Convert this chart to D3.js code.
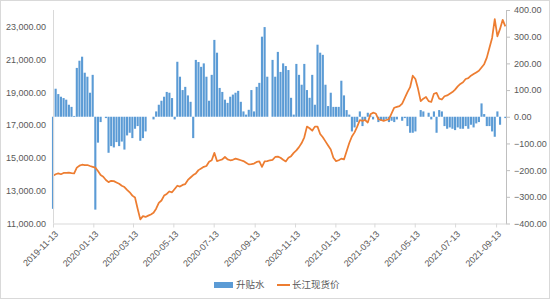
<!DOCTYPE html>
<html>
<head>
<meta charset="utf-8">
<script src="https://cdn.jsdelivr.net/npm/d3@7/dist/d3.min.js"></script>
<style>
  body { margin: 0; background: #fff; }
  text { font-family: "Liberation Sans", "Noto Sans CJK SC", sans-serif; fill: #595959; }
</style>
</head>
<body>
<svg width="550" height="300"></svg>
<script>
// series names for the legend
var seriesNames = ["升贴水", "长江现货价"];

// one reading every 4 days starting at the first date
var startDate = "2019-11-13";
var stepDays = 4;

// 升贴水 (right axis)
var basis = [
  -345, 105, 85, 75, 70, 64, 45, 37, 3, 183,
  210, 225, 165, 150, 90, 157, -348, -97, -20, 0,
  -5, -135, -110, -115, -95, -110, -93, -123, -70, -60,
  -80, -45, -35, -90, -80, -55, 0, 0, -10, 20,
  45, 60, 75, 93, 90, 70, -10, 206, 150, 100,
  112, 80, 56, -80, 213, 205, 187, 200, 150, 60,
  157, 288, 240, 108, 93, 64, 52, 75, 83, 90,
  97, 56, 20, 8, 26, 100, 20, 112, 127, 300,
  336, 150, 0, 213, 150, 243, 168, 200, 190, 175,
  71, 8, 198, 157, 120, 198, 100, 71, 157, 45,
  270, 240, 232, 120, 40, 90, 37, 37, 37, 135,
  80, 25, 8, -55, -40, -20, 20, -35, -15, 15,
  5, -10, 0, -20, -15, -15, -8, -20, -15, -20,
  -10, 0, -15, -5, -35, -60, -60, -55, 0, 25,
  20, 0, 15, -10, 20, -60, 25, 20, -35, -45,
  -40, -45, -50, -40, -45, -45, -35, -45, -30, -40,
  -25, -20, 50, 10, -35, -35, -55, -75, 20, -30,
  0, -5
];

// 长江现货价 (left axis)
var price = [
  13900, 14000, 14050, 14000, 14080, 14090, 14100, 14070, 14050, 14400,
  14520, 14580, 14550, 14560, 14500, 14450, 14400, 14200, 13950, 13850,
  13650, 13520, 13600, 13580, 13500, 13420, 13300, 13220, 13050, 12900,
  12700, 12580, 11900, 11250, 11450, 11400, 11480, 11550, 11650, 11900,
  12250, 12400, 12700, 12800, 12950, 12900, 13100, 13300, 13250, 13350,
  13400, 13650, 13800, 13950, 14050, 14250, 14350, 14450, 14500, 14760,
  14850, 15300, 14800, 14850, 14900, 15050, 14900, 14850, 14880, 14950,
  14900, 14850, 14800, 14700, 14600, 14620, 14650, 14750, 14780, 14450,
  14780, 14800, 14850, 14880, 15050, 15070, 15000, 14880, 14780, 15000,
  15100, 15300, 15450, 15650, 15900, 16250, 16900, 16800, 16650, 16900,
  16900, 16450, 16250, 16000, 15750, 15500, 15000, 14800, 14850, 14950,
  14900, 15400, 15900, 16300, 16550, 16900, 17300, 17250, 17300, 17150,
  17650, 17750, 17700, 17350, 17300, 17250, 17300, 17350, 17700, 18050,
  18100, 18150, 18300, 18650, 19000, 19300, 20000, 19800, 19200, 18450,
  18600, 18700, 18450, 18400, 18900, 18950, 18600, 18550, 18750, 18800,
  18900, 19000, 19150, 19350, 19500, 19600, 19800, 19850, 20000, 20100,
  20200, 20300, 20500, 20700, 21100, 21700, 22300, 23450, 22400, 22850,
  23400, 23000
];

// axis ticks
var xTickLabels = ["2019-11-13", "2020-01-13", "2020-03-13", "2020-05-13", "2020-07-13", "2020-09-13",
  "2020-11-13", "2021-01-13", "2021-03-13", "2021-05-13", "2021-07-13", "2021-09-13"];
var leftTicks = [11000, 13000, 15000, 17000, 19000, 21000, 23000];
var rightTicks = [-400, -300, -200, -100, 0, 100, 200, 300, 400];

var parse = d3.timeParse("%Y-%m-%d");
var fmtLeft = d3.format(",.2f");
var fmtRight = d3.format(".2f");

var svg = d3.select("svg");

// outer frame of the chart
svg.append("rect")
  .attr("x", 0.5).attr("y", 0.5)
  .attr("width", 549).attr("height", 298)
  .attr("fill", "#fff")
  .attr("stroke", "#d9d9d9");

// plot area bounds (plotTop, since "top" is taken by window.top)
var plotLeft = 53, plotRight = 506, plotTop = 10, plotBottom = 223.5;

var t0 = parse(startDate);
var dates = basis.map(function(d, i) { return d3.timeDay.offset(t0, i * stepDays); });

var x = d3.scaleTime()
  .domain([t0, parse("2021-09-28")])
  .range([plotLeft, plotRight]);
var yLeft = d3.scaleLinear().domain([11000, 24000]).range([plotBottom, plotTop]);
var yRight = d3.scaleLinear().domain([-400, 400]).range([plotBottom, plotTop]);

var barW = (x(dates[1]) - x(dates[0])) * 0.8;

// bars for 升贴水, from zero on the right axis
svg.append("g").selectAll("rect")
  .data(basis)
  .enter()
  .append("rect")
  .attr("x", function(d, i) { return x(dates[i]) - barW / 2; })
  .attr("y", function(d) { return Math.min(yRight(d), yRight(0)); })
  .attr("width", barW)
  .attr("height", function(d) { return Math.abs(yRight(d) - yRight(0)); })
  .attr("fill", "#5b9bd5");

// price line on top of the bars
var line = d3.line()
  .x(function(d, i) { return x(dates[i]); })
  .y(function(d) { return yLeft(d); });

svg.append("path")
  .datum(price)
  .attr("d", line)
  .attr("fill", "none")
  .attr("stroke", "#ed7d31")
  .attr("stroke-width", 1.75)
  .attr("stroke-linejoin", "round");

// left axis
var gl = svg.append("g").attr("transform", "translate(" + plotLeft + ",0)")
  .call(d3.axisLeft(yLeft).tickValues(leftTicks).tickFormat(fmtLeft).tickSize(0).tickPadding(7));
gl.select(".domain").attr("stroke", "#d9d9d9").attr("d", "M0.5," + plotTop + "V" + plotBottom);

// right axis
var gr = svg.append("g").attr("transform", "translate(" + plotRight + ",0)")
  .call(d3.axisRight(yRight).tickValues(rightTicks).tickFormat(fmtRight).tickSizeInner(4).tickSizeOuter(0).tickPadding(4));
gr.select(".domain").attr("stroke", "#bfbfbf");
gr.selectAll(".tick line").attr("stroke", "#bfbfbf");

// bottom axis with rotated date labels
var gx = svg.append("g").attr("transform", "translate(0," + plotBottom + ")")
  .call(d3.axisBottom(x).tickValues(xTickLabels.map(parse)).tickFormat(d3.timeFormat("%Y-%m-%d")).tickSizeInner(4).tickSizeOuter(0));
gx.select(".domain").attr("stroke", "#d9d9d9");
gx.selectAll(".tick line").attr("stroke", "#d9d9d9");
gx.selectAll(".tick text")
  .attr("text-anchor", "end")
  .attr("y", 0)
  .attr("dy", "0.35em")
  .attr("transform", "translate(3,9) rotate(-45)");

svg.selectAll(".tick text")
  .style("font-family", "'Liberation Sans', sans-serif")
  .style("font-size", "9px")
  .attr("fill", "#595959");

// legend
var lg = svg.append("g").attr("transform", "translate(0,285)");
lg.append("rect").attr("x", 214).attr("y", -3).attr("width", 19).attr("height", 6).attr("fill", "#5b9bd5");
lg.append("text").attr("x", 236).attr("y", 0).attr("dy", "0.35em")
  .style("font-size", "9.5px").style("font-family", "'Noto Sans CJK SC', sans-serif")
  .text(seriesNames[0]);
lg.append("line").attr("x1", 277).attr("x2", 290).attr("y1", 0).attr("y2", 0)
  .attr("stroke", "#ed7d31").attr("stroke-width", 2);
lg.append("text").attr("x", 292).attr("y", 0).attr("dy", "0.35em")
  .style("font-size", "9.5px").style("font-family", "'Noto Sans CJK SC', sans-serif")
  .text(seriesNames[1]);
</script>
</body>
</html>
